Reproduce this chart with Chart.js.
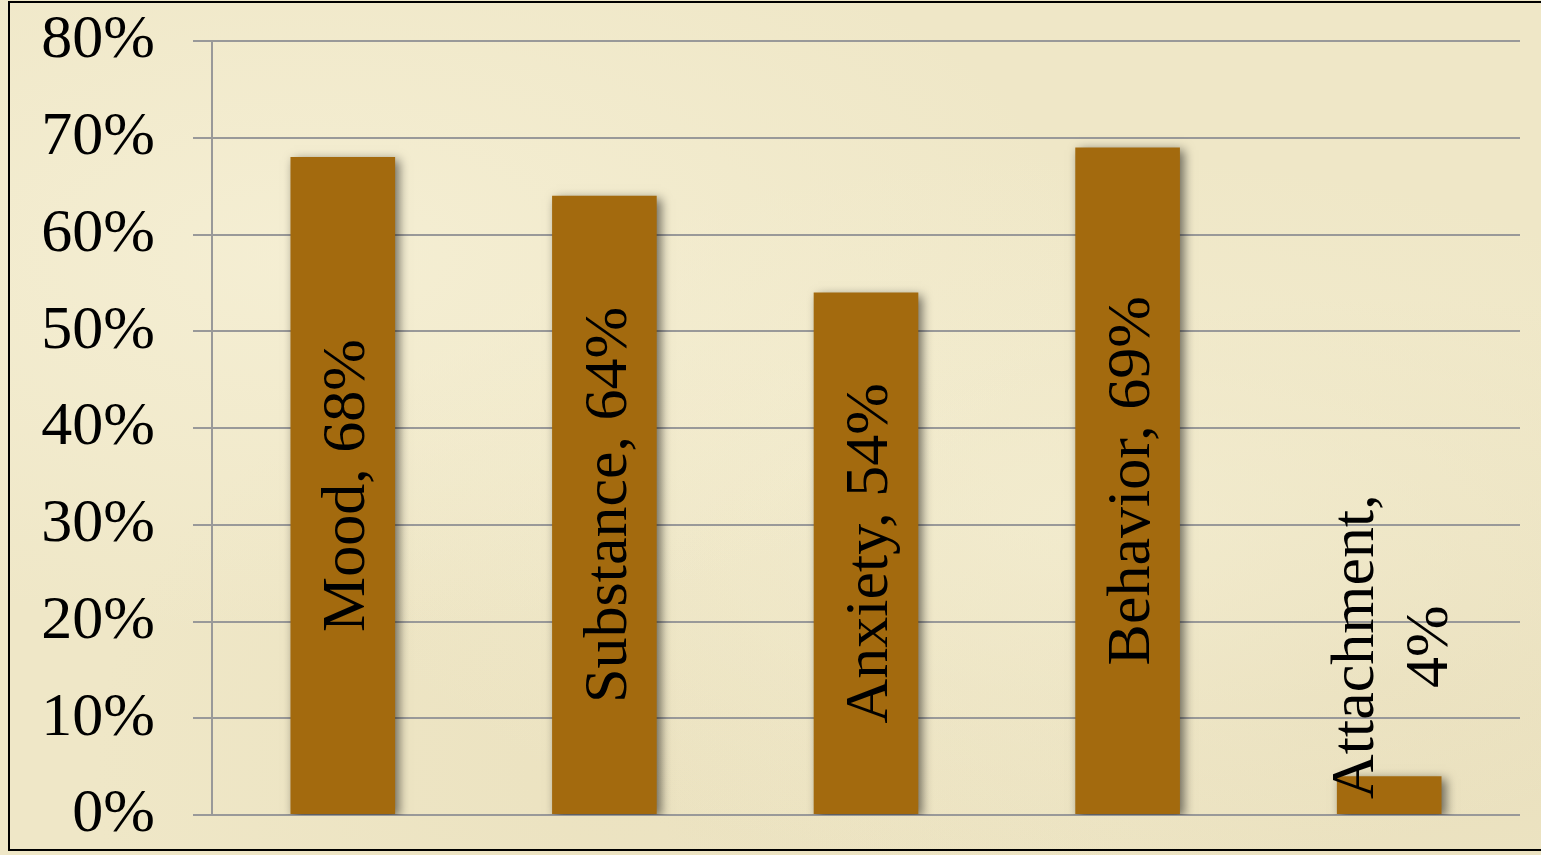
<!DOCTYPE html>
<html>
<head>
<meta charset="utf-8">
<script src="https://cdn.jsdelivr.net/npm/chart.js@4"></script>
<style>
  html, body { margin: 0; padding: 0; }
  body {
    width: 1541px; height: 855px; overflow: hidden; position: relative;
    background-color: #efe7c7;
    background-image:
      radial-gradient(ellipse at 20% 30%, rgba(246,240,214,0.8), rgba(246,240,214,0) 45%),
      radial-gradient(ellipse at 70% 60%, rgba(244,238,210,0.7), rgba(244,238,210,0) 50%),
      radial-gradient(ellipse at 90% 80%, rgba(226,214,176,0.5), rgba(226,214,176,0) 40%),
      radial-gradient(ellipse at 40% 90%, rgba(230,219,182,0.4), rgba(230,219,182,0) 40%);
  }
  #frame {
    position: absolute; left: 8px; top: 1px; width: 1560px; height: 850px;
    border: 2px solid #000; box-sizing: border-box;
  }
  #wrap { position: absolute; left: 0; top: 0; width: 1541px; height: 855px; }
</style>
</head>
<body>
<div id="frame"></div>
<div id="wrap"><canvas id="myChart"></canvas></div>
<script>
const categories = ['Mood', 'Substance', 'Anxiety', 'Behavior', 'Attachment'];
const values = [68, 64, 54, 69, 4];
const yMin = 0;
const yMax = 80;
const yStep = 10;

const barColor = '#a36a0e';
const gridColor = '#999999';
const serif = "'Liberation Serif', 'DejaVu Serif', serif";

// soft shadow under the bars
const barShadow = {
  id: 'barShadow',
  beforeDatasetDraw(chart) {
    const ctx = chart.ctx;
    ctx.save();
    ctx.shadowColor = 'rgba(0,0,0,0.55)';
    ctx.shadowBlur = 10;
    ctx.shadowOffsetX = 4;
    ctx.shadowOffsetY = 3;
  },
  afterDatasetDraw(chart) {
    chart.ctx.restore();
  }
};

// rotated labels "Category, value%" inside the bars
const barLabels = {
  id: 'barLabels',
  afterDatasetsDraw(chart) {
    const ctx = chart.ctx;
    const meta = chart.getDatasetMeta(0);
    const lineH = 74;
    ctx.save();
    ctx.font = '62px ' + serif;
    ctx.fillStyle = '#000';
    ctx.textAlign = 'center';
    ctx.textBaseline = 'middle';
    meta.data.forEach((bar, i) => {
      const full = categories[i] + ', ' + values[i] + '%';
      const h = bar.base - bar.y;
      let lines = [full];
      if (ctx.measureText(full).width + 20 > h) {
        lines = [categories[i] + ',', values[i] + '%'];
      }
      const w = Math.max(...lines.map(l => ctx.measureText(l).width));
      let cy = (bar.y + bar.base) / 2;
      if (w + 20 > h) cy = bar.base - 15 - w / 2;
      ctx.save();
      ctx.translate(bar.x + 5, cy);
      ctx.rotate(-Math.PI / 2);
      lines.forEach((l, k) => {
        ctx.fillText(l, 0, (k - (lines.length - 1) / 2) * lineH);
      });
      ctx.restore();
    });
    ctx.restore();
  }
};

const data = {
  labels: categories,
  datasets: [{
    data: values,
    backgroundColor: barColor,
    borderWidth: 0,
    barPercentage: 0.8,
    categoryPercentage: 0.5
  }]
};

const config = {
  type: 'bar',
  data: data,
  options: {
    responsive: false,
    animation: false,
    layout: {
      padding: { top: 41, bottom: 40, left: 0, right: 21 }
    },
    scales: {
      x: {
        display: false
      },
      y: {
        min: yMin,
        max: yMax,
        afterFit(scale) {
          scale.width = 212;
          scale.paddingTop = 0;
          scale.paddingBottom = 0;
        },
        ticks: {
          stepSize: yStep,
          padding: 38,
          color: '#000',
          font: { family: serif, size: 62 },
          callback: v => v + '%'
        },
        grid: {
          color: gridColor,
          lineWidth: 2,
          tickLength: 19,
          drawTicks: true
        },
        border: { display: true, color: gridColor, width: 2 }
      }
    },
    plugins: {
      legend: { display: false },
      tooltip: { enabled: false },
      title: { display: false }
    }
  },
  plugins: [barShadow, barLabels]
};

const canvas = document.getElementById('myChart');
canvas.width = 1541;
canvas.height = 855;
const myChart = new Chart(canvas, config);
</script>
</body>
</html>
